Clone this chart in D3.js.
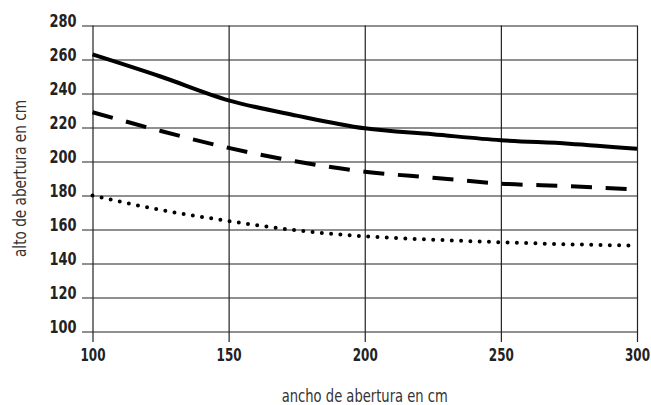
<!DOCTYPE html>
<meta charset="utf-8">
<style>
    body { margin: 0; background: #fff; }
    .grid line { stroke: #222; stroke-width: 1.2; }
    .grid path { display: none; }
    .tick text { font-family: "DejaVu Sans Condensed", "DejaVu Sans", sans-serif; font-weight: bold; font-size: 18px; fill: #222; }
    .title { font-family: "DejaVu Sans Condensed", "DejaVu Sans", sans-serif; font-size: 18px; fill: #333; }
    .line { fill: none; stroke: #000; stroke-width: 4; }
</style>
<body></body>
<script src="https://cdn.jsdelivr.net/npm/d3@7"></script>
<script>
    // data
    var anchos = [100, 125, 150, 175, 200, 225, 250, 275, 300];
    var serieSolida = [263, 250, 236, 227, 219.5, 216, 212.5, 210.5, 207.5];
    var serieRayas = [229, 218, 208, 200, 194, 190.5, 187, 185.5, 183.5];
    var seriePuntos = [180, 171.5, 165, 159.5, 156, 154, 152.5, 151.3, 150.5];
    var xTicks = [100, 150, 200, 250, 300];
    var yTicks = [100, 120, 140, 160, 180, 200, 220, 240, 260, 280];

    var W = 651, H = 405;
    var margin = {top: 25.5, right: 14, bottom: 73.5, left: 92.5};
    var width = W - margin.left - margin.right,
        height = H - margin.top - margin.bottom;

    var x = d3.scaleLinear().domain([100, 300]).range([0, width]);
    var y = d3.scaleLinear().domain([100, 280]).range([height, 0]);

    var svg = d3.select("body").append("svg")
        .attr("width", W)
        .attr("height", H)
        .append("g")
        .attr("transform", "translate(" + margin.left + "," + margin.top + ")");

    // horizontal grid + y labels
    var gy = svg.append("g")
        .attr("class", "grid")
        .call(d3.axisLeft(y).tickValues(yTicks).tickSize(0).tickPadding(16));
    gy.selectAll(".tick line").attr("x1", -10.5).attr("x2", width);
    gy.selectAll(".tick text").attr("dy", "0.35em").attr("y", -5)
        .attr("textLength", 27).attr("lengthAdjust", "spacingAndGlyphs");

    // vertical grid + x labels (narrowed with a scale so the 300 stays on the page)
    var gx = svg.append("g")
        .attr("class", "grid")
        .attr("transform", "translate(0," + height + ")")
        .call(d3.axisBottom(x).tickValues(xTicks).tickSize(0).tickPadding(17));
    gx.selectAll(".tick line").attr("y1", 10.5).attr("y2", -height);
    gx.selectAll(".tick text").attr("transform", "scale(0.74,1)");

    var line = d3.line()
        .x(function(d, i) { return x(anchos[i]); })
        .y(function(d) { return y(d); })
        .curve(d3.curveMonotoneX);

    svg.append("path").datum(serieSolida).attr("class", "line").attr("d", line);

    svg.append("path").datum(serieRayas).attr("class", "line")
        .attr("stroke-dasharray", "21,13.7")
        .attr("d", line);

    svg.append("path").datum(seriePuntos).attr("class", "line")
        .attr("stroke-linecap", "round")
        .attr("stroke-dasharray", "0,9.3")
        .attr("d", line);

    // axis titles
    svg.append("text")
        .attr("class", "title")
        .attr("text-anchor", "middle")
        .attr("x", width / 2)
        .attr("y", height + 70)
        .attr("textLength", 166).attr("lengthAdjust", "spacingAndGlyphs")
        .text("ancho de abertura en cm");

    svg.append("text")
        .attr("class", "title")
        .attr("text-anchor", "middle")
        .attr("transform", "translate(" + (26 - margin.left) + "," + (height / 2) + ") rotate(-90)")
        .attr("textLength", 157).attr("lengthAdjust", "spacingAndGlyphs")
        .text("alto de abertura en cm");
</script>
